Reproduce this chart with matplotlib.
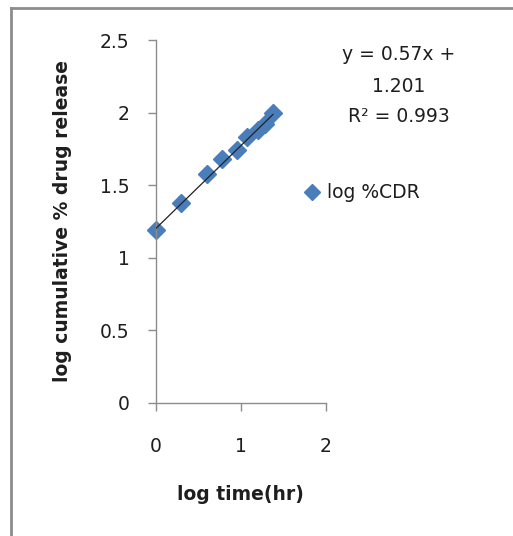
import numpy as np
import matplotlib.pyplot as plt
from matplotlib.lines import Line2D

# log time (hr) vs log cumulative % drug release
log_time = [0.0, 0.301, 0.602, 0.778, 0.954, 1.079, 1.204, 1.290, 1.380]
log_cdr = [1.19, 1.38, 1.575, 1.68, 1.74, 1.83, 1.88, 1.92, 2.00]
slope = 0.57
intercept = 1.201
r2 = 0.993

W, H = 513, 536
fig = plt.figure(figsize=(W / 100, H / 100), dpi=100)
ax = fig.add_axes([155.7 / W, 1 - 403 / H, 170 / W, 363 / H])

blue = '#4a7ebb'
gray = '#8c8c8c'
txt = '#1e1e1e'
fs = 13.5

ax.plot(log_time, log_cdr, linestyle='none', marker='D', markersize=9.5,
        color=blue, label='log %CDR', zorder=2, clip_on=False)

xfit = np.array([min(log_time), max(log_time)])
ax.plot(xfit, slope * xfit + intercept, color='#222222', linewidth=0.9, zorder=3)

ax.set_xlim(0, 2)
ax.set_ylim(0, 2.5)
ax.set_xticks([0, 1, 2])
ax.set_yticks([0, 0.5, 1, 1.5, 2, 2.5])
ax.set_yticklabels(['0', '0.5', '1', '1.5', '2', '2.5'])

for s in ['top', 'right']:
    ax.spines[s].set_visible(False)
for s in ['left', 'bottom']:
    ax.spines[s].set_color(gray)
    ax.spines[s].set_linewidth(1)
ax.tick_params(direction='out', length=5.8, width=1, color=gray,
               labelsize=fs, labelcolor=txt)
ax.tick_params(axis='y', pad=13)
ax.tick_params(axis='x', pad=18.5)

fig.text(240.7 / W, 1 - 495 / H, 'log time(hr)', ha='center', va='center',
         fontsize=fs, fontweight='bold', color=txt)
fig.text(62.5 / W, 1 - 221.5 / H, 'log cumulative % drug release', ha='center',
         va='center', rotation=90, fontsize=fs, fontweight='bold', color=txt)

fig.text(399 / W, 1 - 86 / H,
         'y = %.2fx +\n%.3f\nR² = %.3f' % (slope, intercept, r2),
         ha='center', va='center', fontsize=fs, color=txt, linespacing=1.8)

fig.legend(loc='center left', bbox_to_anchor=(302.3 / W, 1 - 193 / H), frameon=False,
           borderpad=0, borderaxespad=0, handlelength=1.0, handletextpad=0.3,
           fontsize=fs, markerscale=0.85, labelcolor=txt)

# outer frame (left and top edges only)
fig.add_artist(Line2D([11 / W, 11 / W], [0, 1 - 8 / H], transform=fig.transFigure,
                      color=gray, linewidth=2))
fig.add_artist(Line2D([11 / W, 1], [1 - 8 / H, 1 - 8 / H], transform=fig.transFigure,
                      color=gray, linewidth=2))

fig.savefig('out.png', dpi=100)
